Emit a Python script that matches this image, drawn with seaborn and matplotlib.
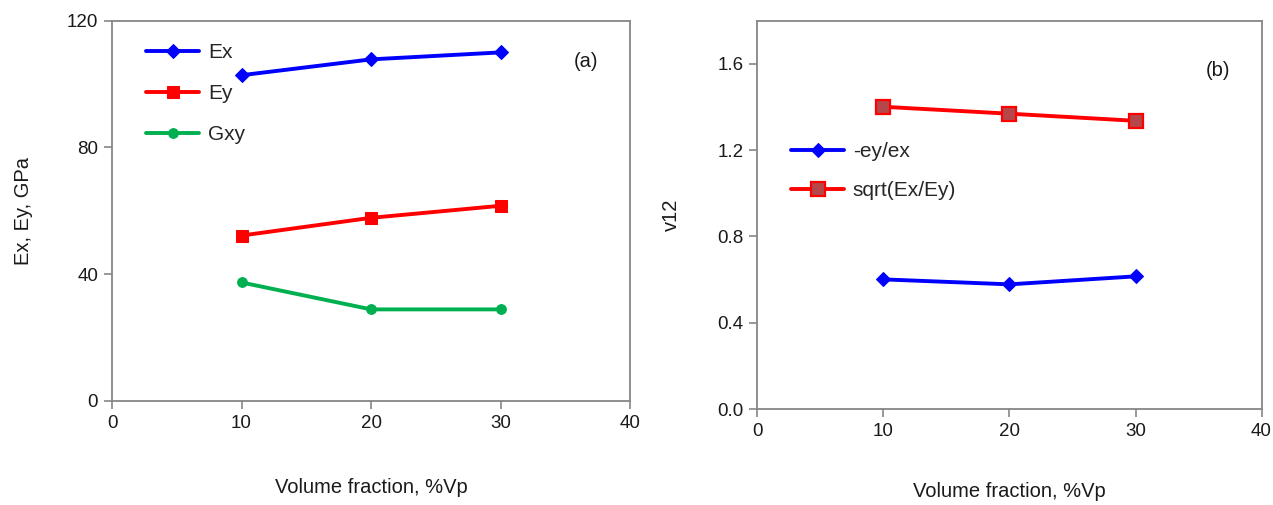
import matplotlib
matplotlib.use("Agg")
import matplotlib.pyplot as plt
import seaborn as sns
import numpy as np

# --- données ---
vp = [10, 20, 30]
ex_gpa = [102.8, 107.8, 110.0]
ey_gpa = [52.2, 57.8, 61.6]
gxy_gpa = [37.4, 28.9, 28.9]

nu_ratio = [0.601, 0.578, 0.615]      # -ey/ex
nu_sqrt = [1.401, 1.369, 1.336]       # sqrt(Ex/Ey)

BLUE = "#0000FF"
RED = "#FF0000"
GREEN = "#00B050"
SPINE = "#868686"
TXT = "#1a1a1a"

sns.set_style("ticks")
plt.rcParams["font.family"] = ["Liberation Sans", "DejaVu Sans"]
plt.rcParams["font.size"] = 13

fig = plt.figure(figsize=(12.73, 5.05), dpi=100)
ax_a = fig.add_axes([0.088, 0.206, 0.407, 0.753])
ax_b = fig.add_axes([0.595, 0.190, 0.396, 0.769])


def style_axes(ax):
    for s in ax.spines.values():
        s.set_color(SPINE)
        s.set_linewidth(1.3)
        s.set_visible(True)
    ax.tick_params(direction="out", length=6, width=1.2, color=SPINE,
                   labelcolor=TXT, labelsize=13.5, pad=4)
    ax.grid(False)


# (a) modules
sns.lineplot(x=vp, y=ex_gpa, ax=ax_a, color=BLUE, lw=2.8, marker="D",
             markersize=7, markeredgecolor=BLUE, label="Ex")
sns.lineplot(x=vp, y=ey_gpa, ax=ax_a, color=RED, lw=2.8, marker="s",
             markersize=8.5, markeredgecolor=RED, label="Ey")
sns.lineplot(x=vp, y=gxy_gpa, ax=ax_a, color=GREEN, lw=2.8, marker="o",
             markersize=7, markeredgecolor=GREEN, label="Gxy")
ax_a.set_xlim(0, 40)
ax_a.set_ylim(0, 120)
ax_a.set_xticks([0, 10, 20, 30, 40])
ax_a.set_yticks([0, 40, 80, 120])
ax_a.set_xlabel("Volume fraction, %Vp", fontsize=14.5, color=TXT, labelpad=33)
ax_a.set_ylabel("Ex, Ey, GPa", fontsize=14.5, color=TXT, labelpad=24)
ax_a.text(0.915, 0.893, "(a)", transform=ax_a.transAxes, fontsize=14.5,
          color=TXT, ha="center", va="center")
ax_a.legend(loc="upper left", bbox_to_anchor=(0.03, 0.99), frameon=False,
            handlelength=2.55, labelspacing=1.05, fontsize=15, handletextpad=0.4)
style_axes(ax_a)

# (b) coefficient de Poisson
sns.lineplot(x=vp, y=nu_ratio, ax=ax_b, color=BLUE, lw=2.8, marker="D",
             markersize=7, markeredgecolor=BLUE, label="-ey/ex")
sns.lineplot(x=vp, y=nu_sqrt, ax=ax_b, color=RED, lw=2.8, marker="s",
             markersize=10, markerfacecolor="#B5474A", markeredgecolor=RED,
             markeredgewidth=1.6, label="sqrt(Ex/Ey)")
ax_b.set_xlim(0, 40)
ax_b.set_ylim(0, 1.8)
ax_b.set_xticks([0, 10, 20, 30, 40])
ax_b.set_yticks([0.0, 0.4, 0.8, 1.2, 1.6])
ax_b.set_yticklabels(["0.0", "0.4", "0.8", "1.2", "1.6"])
ax_b.set_xlabel("Volume fraction, %Vp", fontsize=14.5, color=TXT, labelpad=30)
ax_b.set_ylabel("v12", fontsize=14.5, color=TXT, labelpad=26)
ax_b.text(0.913, 0.872, "(b)", transform=ax_b.transAxes, fontsize=14.5,
          color=TXT, ha="center", va="center")
ax_b.legend(loc="upper left", bbox_to_anchor=(0.03, 0.735), frameon=False,
            handlelength=2.55, labelspacing=0.95, fontsize=15, handletextpad=0.4)
style_axes(ax_b)

plt.savefig("out.png", dpi=100)
plt.close()
